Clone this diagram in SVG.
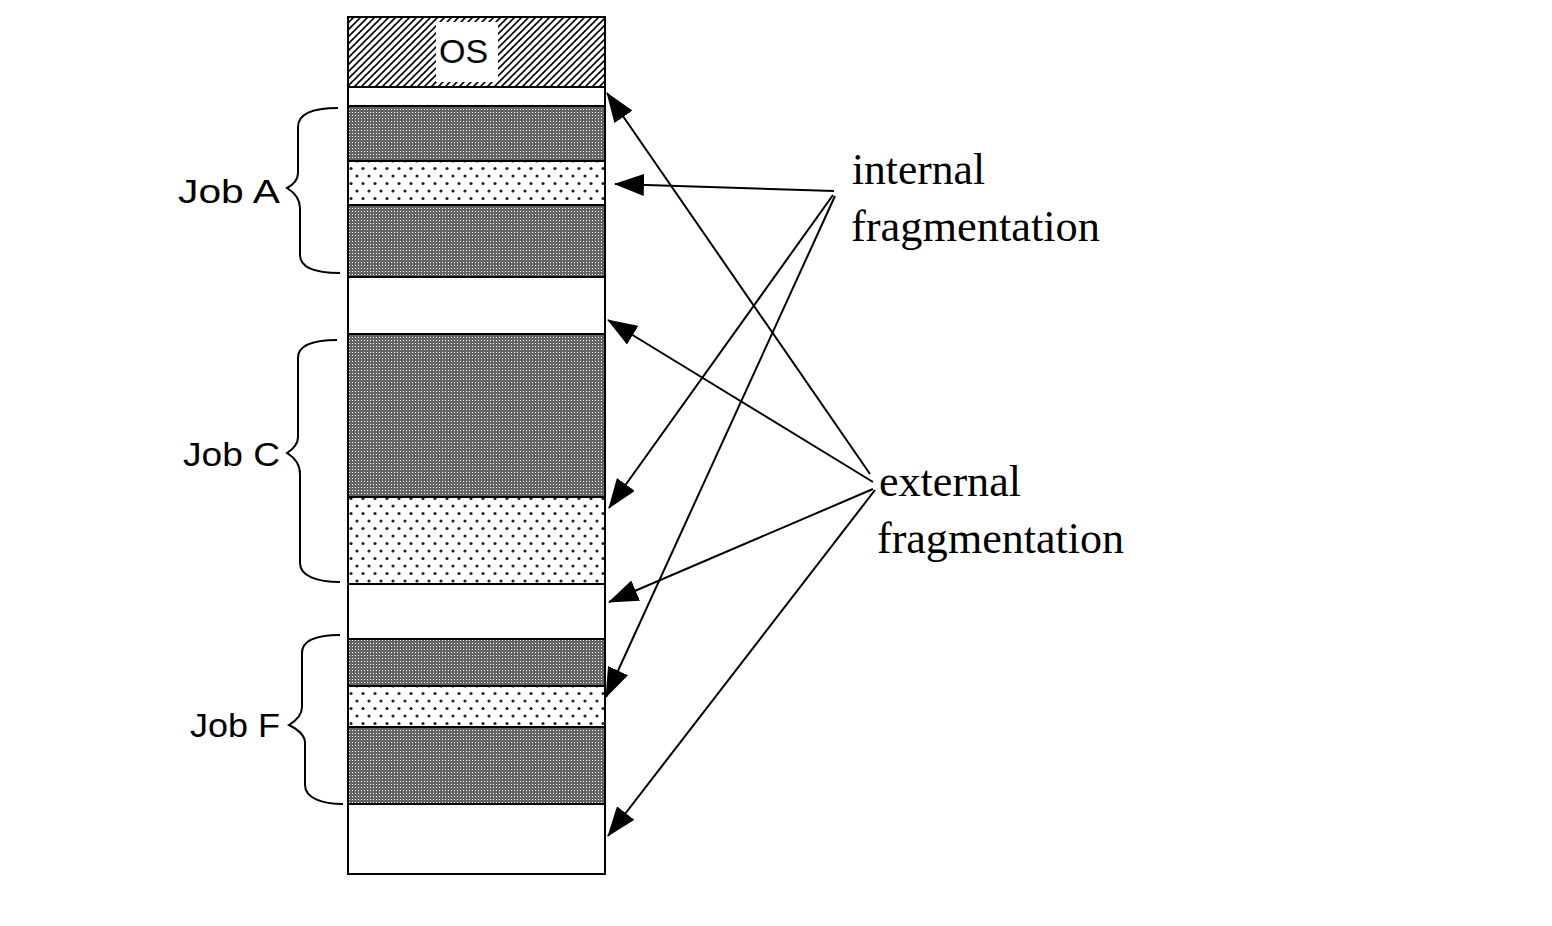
<svg xmlns="http://www.w3.org/2000/svg" width="1552" height="926" viewBox="0 0 1552 926">
<defs>
<pattern id="hatch" patternUnits="userSpaceOnUse" width="7" height="7">
<rect width="7" height="7" fill="#fff"/>
<path d="M-1,8 L8,-1 M-1,1 L1,-1 M6,8 L8,6" stroke="#000" stroke-width="1.6"/>
</pattern>
<pattern id="dark" patternUnits="userSpaceOnUse" width="3" height="3">
<rect width="3" height="3" fill="#646464"/>
<rect x="1" y="1" width="1" height="1" fill="#fff"/>
</pattern>
<pattern id="light" patternUnits="userSpaceOnUse" width="12" height="15">
<rect width="12" height="15" fill="#fff"/>
<circle cx="3" cy="3.5" r="1.6" fill="#222"/>
<circle cx="9" cy="11" r="1.6" fill="#222"/>
</pattern>
<marker id="ah" viewBox="0 0 30 22" markerWidth="30" markerHeight="22" refX="29" refY="11" orient="auto" markerUnits="userSpaceOnUse">
<path d="M0,0 L30,11 L0,22 z" fill="#000"/>
</marker>
</defs>
<style>
.band{stroke:#000;stroke-width:2}
.free{fill:#fff}
.dk{fill:url(#dark)}
.lt{fill:url(#light)}
.brace{fill:none;stroke:#000;stroke-width:2}
.sans{font-family:"Liberation Sans",Arial,sans-serif;font-size:34px;fill:#000}
.serif{font-family:"Liberation Serif","Times New Roman",serif;font-size:44px;fill:#000}
.conn line{stroke:#000;stroke-width:2;marker-end:url(#ah)}
</style>
<rect width="1552" height="926" fill="#fff"/>
<g id="memory">
<g id="os">
<rect class="band" x="348" y="17" width="257" height="70" fill="url(#hatch)"/>
<rect x="436" y="22" width="62" height="60" fill="#fff"/>
<text class="sans" x="439" y="63" font-size="35">OS</text>
</g>
<rect id="free1" class="band free" x="348" y="87" width="257" height="19"/>
<rect id="jobA1" class="band dk" x="348" y="106" width="257" height="55"/>
<rect id="jobA-int" class="band lt" x="348" y="161" width="257" height="44"/>
<rect id="jobA2" class="band dk" x="348" y="205" width="257" height="72"/>
<rect id="free2" class="band free" x="348" y="277" width="257" height="57"/>
<rect id="jobC1" class="band dk" x="348" y="334" width="257" height="163"/>
<rect id="jobC-int" class="band lt" x="348" y="497" width="257" height="87"/>
<rect id="free3" class="band free" x="348" y="584" width="257" height="55"/>
<rect id="jobF1" class="band dk" x="348" y="639" width="257" height="47"/>
<rect id="jobF-int" class="band lt" x="348" y="686" width="257" height="41"/>
<rect id="jobF2" class="band dk" x="348" y="727" width="257" height="77"/>
<rect id="free4" class="band free" x="348" y="804" width="257" height="70"/>
<rect x="348" y="17" width="257" height="857" fill="none" stroke="#000" stroke-width="2"/>
</g>
<g id="jobA">
<path class="brace" d="M338,108 C314,108 298,113 298,127 L298,173 Q298,182 287,188 Q300,196 300,208 L300,255 C300,268 317,273 340,273"/>
<text class="sans" x="178" y="203" textLength="102" lengthAdjust="spacingAndGlyphs">Job  A</text>
</g>
<g id="jobC">
<path class="brace" d="M337,340 C313,340 298,345 298,358 L298,437 Q298,446 287,453 Q300,461 300,474 L300,563 C300,576 317,582 340,582"/>
<text class="sans" x="183" y="466" textLength="97" lengthAdjust="spacingAndGlyphs">Job C</text>
</g>
<g id="jobF">
<path class="brace" d="M340,635 C316,635 302,640 302,653 L302,707 Q302,717 289,725 Q305,733 305,743 L305,785 C305,798 322,804 343,804"/>
<text class="sans" x="190" y="737" textLength="90" lengthAdjust="spacingAndGlyphs">Job F</text>
</g>
<g id="internal-label">
<text class="serif" x="852" y="184" textLength="133" lengthAdjust="spacingAndGlyphs">internal</text>
<text class="serif" x="851" y="241" textLength="249" lengthAdjust="spacingAndGlyphs">fragmentation</text>
</g>
<g id="external-label">
<text class="serif" x="879" y="496" textLength="142" lengthAdjust="spacingAndGlyphs">external</text>
<text class="serif" x="877" y="553" textLength="247" lengthAdjust="spacingAndGlyphs">fragmentation</text>
</g>
<g id="connectors" class="conn">
<line x1="834" y1="191" x2="615" y2="184"/>
<line x1="833" y1="195" x2="609" y2="508"/>
<line x1="835" y1="196" x2="606" y2="697"/>
<line x1="870" y1="474" x2="607" y2="93"/>
<line x1="873" y1="482" x2="608" y2="320"/>
<line x1="873" y1="489" x2="609" y2="602"/>
<line x1="875" y1="490" x2="608" y2="836"/>
</g>
</svg>
